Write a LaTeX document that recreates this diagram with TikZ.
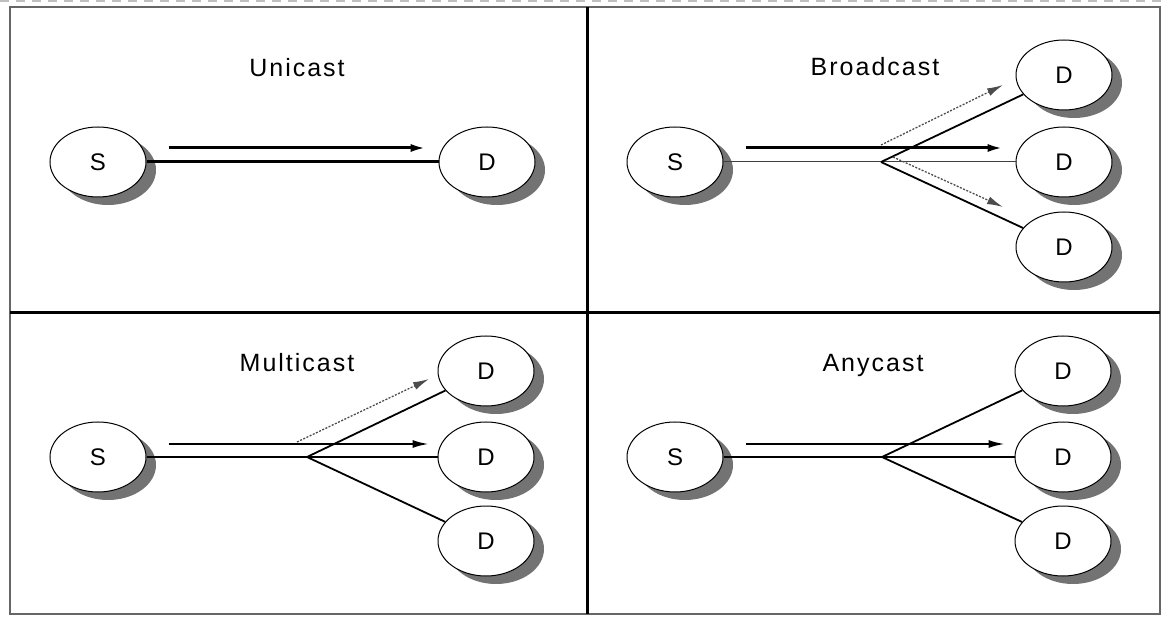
\documentclass[tikz,border=0pt]{standalone}
\usepackage{fontspec}
\setmainfont{Liberation Sans}
\usetikzlibrary{shapes.geometric,shadows,arrows.meta}

\begin{document}
\begin{tikzpicture}[
x=1pt,
y=-1pt,
host/.style={
  draw,
  ellipse,
  fill=white,
  line width=1pt,
  minimum width=96pt,
  minimum height=70pt,
  inner sep=0pt,
  font=\fontsize{24}{24}\selectfont,
  drop shadow={shadow xshift=10pt,shadow yshift=-8pt,fill=black!55,opacity=1}
  },
title/.style={
  anchor=base,
  font=\fontsize{25}{25}\selectfont\addfontfeature{LetterSpace=8}
  },
frame/.style={draw=black!60,line width=1.5pt},
divider/.style={line width=3pt},
fat/.style={line width=3pt},
thin/.style={line width=1.8pt},
hair/.style={line width=1pt,black!75},
dots/.style={line width=1.3pt,black!70,dash pattern=on 2pt off 1.5pt},
>={Latex[length=16pt,width=8pt]}
]
\useasboundingbox (0,0) rectangle (1162,617);
\draw[black!25,line width=2pt,dash pattern=on 9pt off 7pt] (0,1) -- (1162,1);
\draw[frame] (10,7) rectangle (1160,614);
\draw[divider] (587,7) -- (587,614);
\draw[divider] (10,313) -- (1160,313);

\node[title] (tu) at (297,77) {Unicast};
\node[host] (su) at (98,162) {S};
\node[host] (du) at (487,162) {D};
\draw[fat] (su) -- (du);
\draw[fat,->] ([xshift=22pt,yshift=14pt]su.east) -- ([xshift=-12pt,yshift=14pt]du.west);

\node[title] (tb) at (875,76) {Broadcast};
\node[host] (sb) at (675,162) {S};
\foreach \n/\y in {1/75,2/162,3/247}
  \node[host] (db\n) at (1064,\y) {D};
\coordinate (bb) at (881,162);
\draw[hair] (sb) -- (db2);
\foreach \n in {1,3}
  \draw[thin] (bb) -- (db\n);
\draw[fat,->] ([xshift=22pt,yshift=14pt]sb.east) -- ([xshift=-12pt,yshift=14pt]db2.west);
\coordinate (bu0) at (881,145);
\coordinate (bu1) at (1003,85);
\coordinate (bd0) at (893,157);
\coordinate (bd1) at (1003,207);
\draw[dots,->] (bu0) -- (bu1);
\draw[dots,->] (bd0) -- (bd1);

\node[title] (tm) at (297,372) {Multicast};
\node[host] (sm) at (98,457) {S};
\foreach \n/\y in {1/371,2/457,3/541}
  \node[host] (dm\n) at (486,\y) {D};
\coordinate (bm) at (307,457);
\draw[thin] (sm) -- (dm2);
\foreach \n in {1,3}
  \draw[thin] (bm) -- (dm\n);
\draw[thin,->] ([xshift=22pt,yshift=13pt]sm.east) -- ([xshift=-9pt,yshift=13pt]dm2.west);
\coordinate (mu0) at (297,442);
\coordinate (mu1) at (429,379);
\draw[dots,->] (mu0) -- (mu1);

\node[title] (ta) at (873,372) {Anycast};
\node[host] (sa) at (675,457) {S};
\foreach \n/\y in {1/371,2/457,3/541}
  \node[host] (da\n) at (1063,\y) {D};
\coordinate (ba) at (882,457);
\draw[thin] (sa) -- (da2);
\foreach \n in {1,3}
  \draw[thin] (ba) -- (da\n);
\draw[thin,->] ([xshift=22pt,yshift=13pt]sa.east) -- ([xshift=-10pt,yshift=13pt]da2.west);
\end{tikzpicture}
\end{document}
